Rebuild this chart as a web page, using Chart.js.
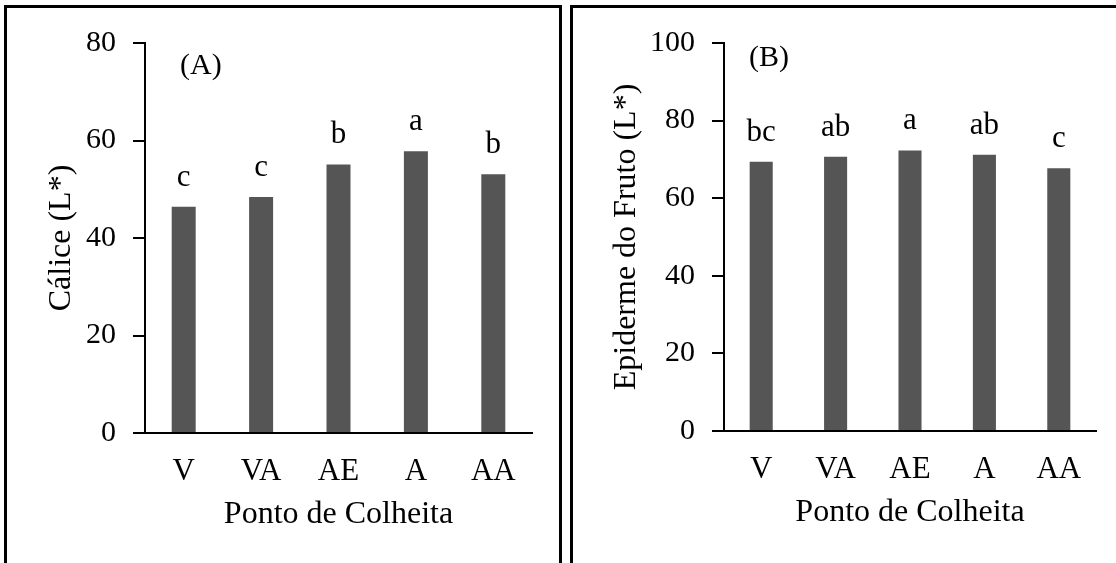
<!DOCTYPE html>
<html>
<head>
<meta charset="utf-8">
<script src="https://cdn.jsdelivr.net/npm/chart.js@4"></script>
<style>
  body { margin: 0; width: 1116px; height: 563px; overflow: hidden; background: #fff; position: relative; }
  .box { position: absolute; border: 3px solid #000; border-bottom: none; }
  canvas { position: absolute; }
</style>
</head>
<body>
<div class="box" style="left:4px; top:5px; width:552px; height:600px;"></div>
<div class="box" style="left:570px; top:5px; width:600px; height:600px;"></div>
<canvas id="chartA" width="548" height="555" style="left:8px; top:8px;"></canvas>
<canvas id="chartB" width="542" height="555" style="left:574px; top:8px;"></canvas>
<script>
var categories = ['V', 'VA', 'AE', 'A', 'AA'];

// painel A - Cálice
var caliceValues = [46.4, 48.4, 55.1, 57.8, 53.1];
var caliceLetters = ['c', 'c', 'b', 'a', 'b'];
var caliceTicks = [0, 20, 40, 60, 80];

// painel B - Epiderme do fruto
var epidermeValues = [69.4, 70.7, 72.3, 71.2, 67.7];
var epidermeLetters = ['bc', 'ab', 'a', 'ab', 'c'];
var epidermeTicks = [0, 20, 40, 60, 80, 100];

var serif = '"Liberation Serif", "Times New Roman", serif';

var lettersPlugin = {
  id: 'letters',
  afterDatasetsDraw: function (chart, args, opts) {
    var ctx = chart.ctx;
    var meta = chart.getDatasetMeta(0);
    ctx.save();
    ctx.fillStyle = '#000';
    ctx.font = '31px ' + serif;
    ctx.textAlign = 'center';
    ctx.textBaseline = 'alphabetic';
    meta.data.forEach(function (bar, i) {
      ctx.fillText(opts.letters[i], bar.x, bar.y - 21);
    });
    ctx.font = '30px ' + serif;
    ctx.textAlign = 'left';
    ctx.textBaseline = 'middle';
    ctx.fillText(opts.panel, chart.chartArea.left + opts.panelX, chart.chartArea.top + opts.panelY);
    ctx.restore();
  }
};

function makeChart(id, values, letters, ticks, yTitle, panel, cfg) {
  var ctx = document.getElementById(id).getContext('2d');
  return new Chart(ctx, {
    type: 'bar',
    data: {
      labels: categories,
      datasets: [{
        data: values,
        backgroundColor: '#555555',
        barPercentage: 0.31,
        categoryPercentage: 1
      }]
    },
    options: {
      responsive: false,
      animation: false,
      layout: { padding: cfg.padding },
      plugins: {
        legend: { display: false },
        tooltip: { enabled: false },
        letters: { letters: letters, panel: panel, panelX: cfg.panelX, panelY: cfg.panelY }
      },
      scales: {
        x: {
          grid: { display: false, drawTicks: false },
          border: { display: true, color: '#000', width: 2 },
          ticks: { color: '#000', padding: 20, font: { family: serif, size: 31 } },
          title: { display: true, text: 'Ponto de Colheita', color: '#000', padding: 0, font: { family: serif, size: 32 } },
          afterFit: function (s) { s.height = 101; }
        },
        y: {
          min: 0,
          max: ticks[ticks.length - 1],
          afterBuildTicks: function (s) { s.ticks = ticks.map(function (v) { return { value: v }; }); },
          grid: { drawOnChartArea: false, drawTicks: true, tickLength: 12, color: '#000', lineWidth: 2 },
          border: { display: true, color: '#000', width: 2 },
          ticks: { color: '#000', padding: 17, font: { family: serif, size: 30 } },
          title: { display: true, text: yTitle, color: '#000', padding: 0, font: { family: serif, size: 32 } },
          afterFit: function (s) { s.width = cfg.yWidth; }
        }
      }
    },
    plugins: [lettersPlugin]
  });
}

makeChart('chartA', caliceValues, caliceLetters, caliceTicks, 'Cálice (L*)', '(A)',
  { padding: { left: 34, top: 30, right: 24, bottom: 29 }, yWidth: 103, panelX: 35, panelY: 23 });
makeChart('chartB', epidermeValues, epidermeLetters, epidermeTicks, 'Epiderme do Fruto (L*)', '(B)',
  { padding: { left: 33, top: 30, right: 20, bottom: 31 }, yWidth: 117, panelX: 25, panelY: 15 });
</script>
</body>
</html>
